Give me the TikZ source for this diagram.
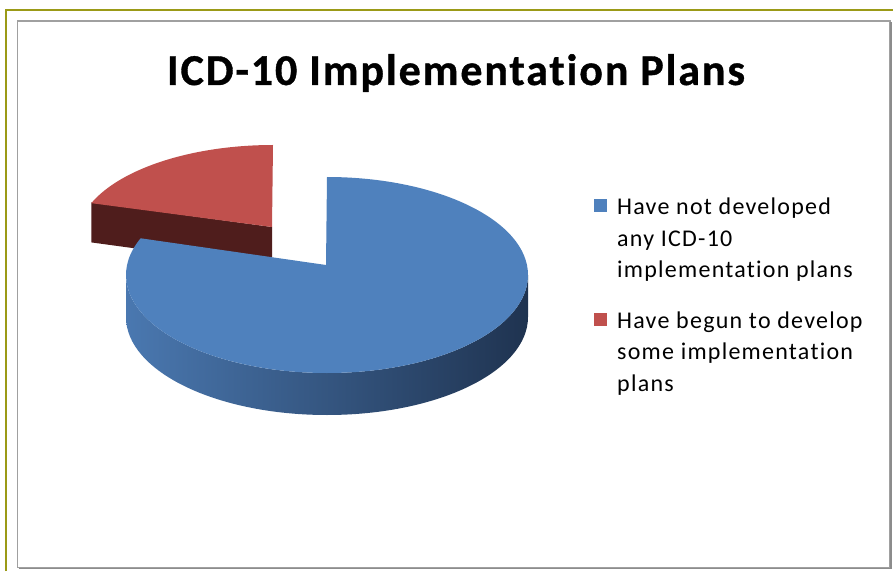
\documentclass[tikz,border=0pt]{standalone}
\usepackage{fontspec}
\setmainfont{Carlito}
\newfontfamily\titlefont[LetterSpace=4.3,FakeBold=0.8,Ligatures=NoCommon]{Carlito Bold}
\newfontfamily\legfont[LetterSpace=5.2,Ligatures=NoCommon]{Carlito}
\usetikzlibrary{calc}
\definecolor{blueTop}{HTML}{4F81BD}
\definecolor{blueSideL}{HTML}{4A78B0}
\definecolor{blueSideM}{HTML}{30527E}
\definecolor{blueSideR}{HTML}{1F3350}
\definecolor{redTop}{HTML}{C0504D}
\definecolor{redSide}{HTML}{4F1D1C}
\definecolor{oliveLine}{HTML}{9B9A17}
\definecolor{frameGray}{HTML}{A0A0A0}
\definecolor{frameDark}{HTML}{8C8C8C}
\tikzset{
  legtext/.style={anchor=base west, inner sep=0pt, font=\legfont\fontsize{24}{30}\selectfont},
  titletext/.style={anchor=base, inner sep=0pt, font=\titlefont\fontsize{44}{50}\selectfont},
  legbox/.style={inner sep=0pt, minimum size=13pt, anchor=south west},
}
\begin{document}
\begin{tikzpicture}[x=1pt,y=1pt]
\useasboundingbox (0,0) rectangle (893,571);
\fill[white] (0,0) rectangle (893,571);
% frames
\draw[oliveLine, line width=2pt] (6,0) -- (6,560.5) -- (893,560.5);
\draw[frameGray, line width=1.5pt] (17.5,3.5) rectangle (890,550);
\draw[frameDark, line width=1.5pt] (18.5,2.5) -- (891,2.5) -- (891,549);
% title
\node[titletext] (title) at (456,486) {ICD-10 Implementation Plans};
% red slice (exploded)
\coordinate (rc) at (273,333);
\coordinate (ra) at (272,344);
\fill[redSide] (ra) -- ($(rc)+(158:196 and 95)$) -- ++(0,-40) -- ($(ra)+(0,-40)$) -- cycle;
\fill[redTop] (ra) -- ($(rc)+(90:196 and 93)$) arc[start angle=90, end angle=158, x radius=196, y radius=93] -- cycle;
% blue slice
\coordinate (bc) at (327,296);
\coordinate (ba) at (326,306);
\shade[left color=blueSideL, middle color=blueSideM, right color=blueSideR]
  ($(bc)+(180:201 and 98)$) arc[start angle=180, end angle=360, x radius=201, y radius=98]
  -- ++(0,-42) arc[start angle=0, end angle=-180, x radius=201, y radius=98] -- cycle;
\fill[blueTop] (ba) -- ($(bc)+(90:201 and 98)$) arc[start angle=90, end angle=-202, x radius=201, y radius=98] -- cycle;
% legend
\node[legbox, fill=blueTop] (k1) at (594,359) {};
\node[legtext] (l1a) at (617,356.5) {Have not developed};
\node[legtext] (l1b) at (617,325) {any ICD-10};
\node[legtext] (l1c) at (617,293.5) {implementation plans};
\node[legbox, fill=redTop] (k2) at (594,245) {};
\node[legtext] (l2a) at (617,243) {Have begun to develop};
\node[legtext] (l2b) at (617,211.5) {some implementation};
\node[legtext] (l2c) at (617,180) {plans};
\end{tikzpicture}
\end{document}
